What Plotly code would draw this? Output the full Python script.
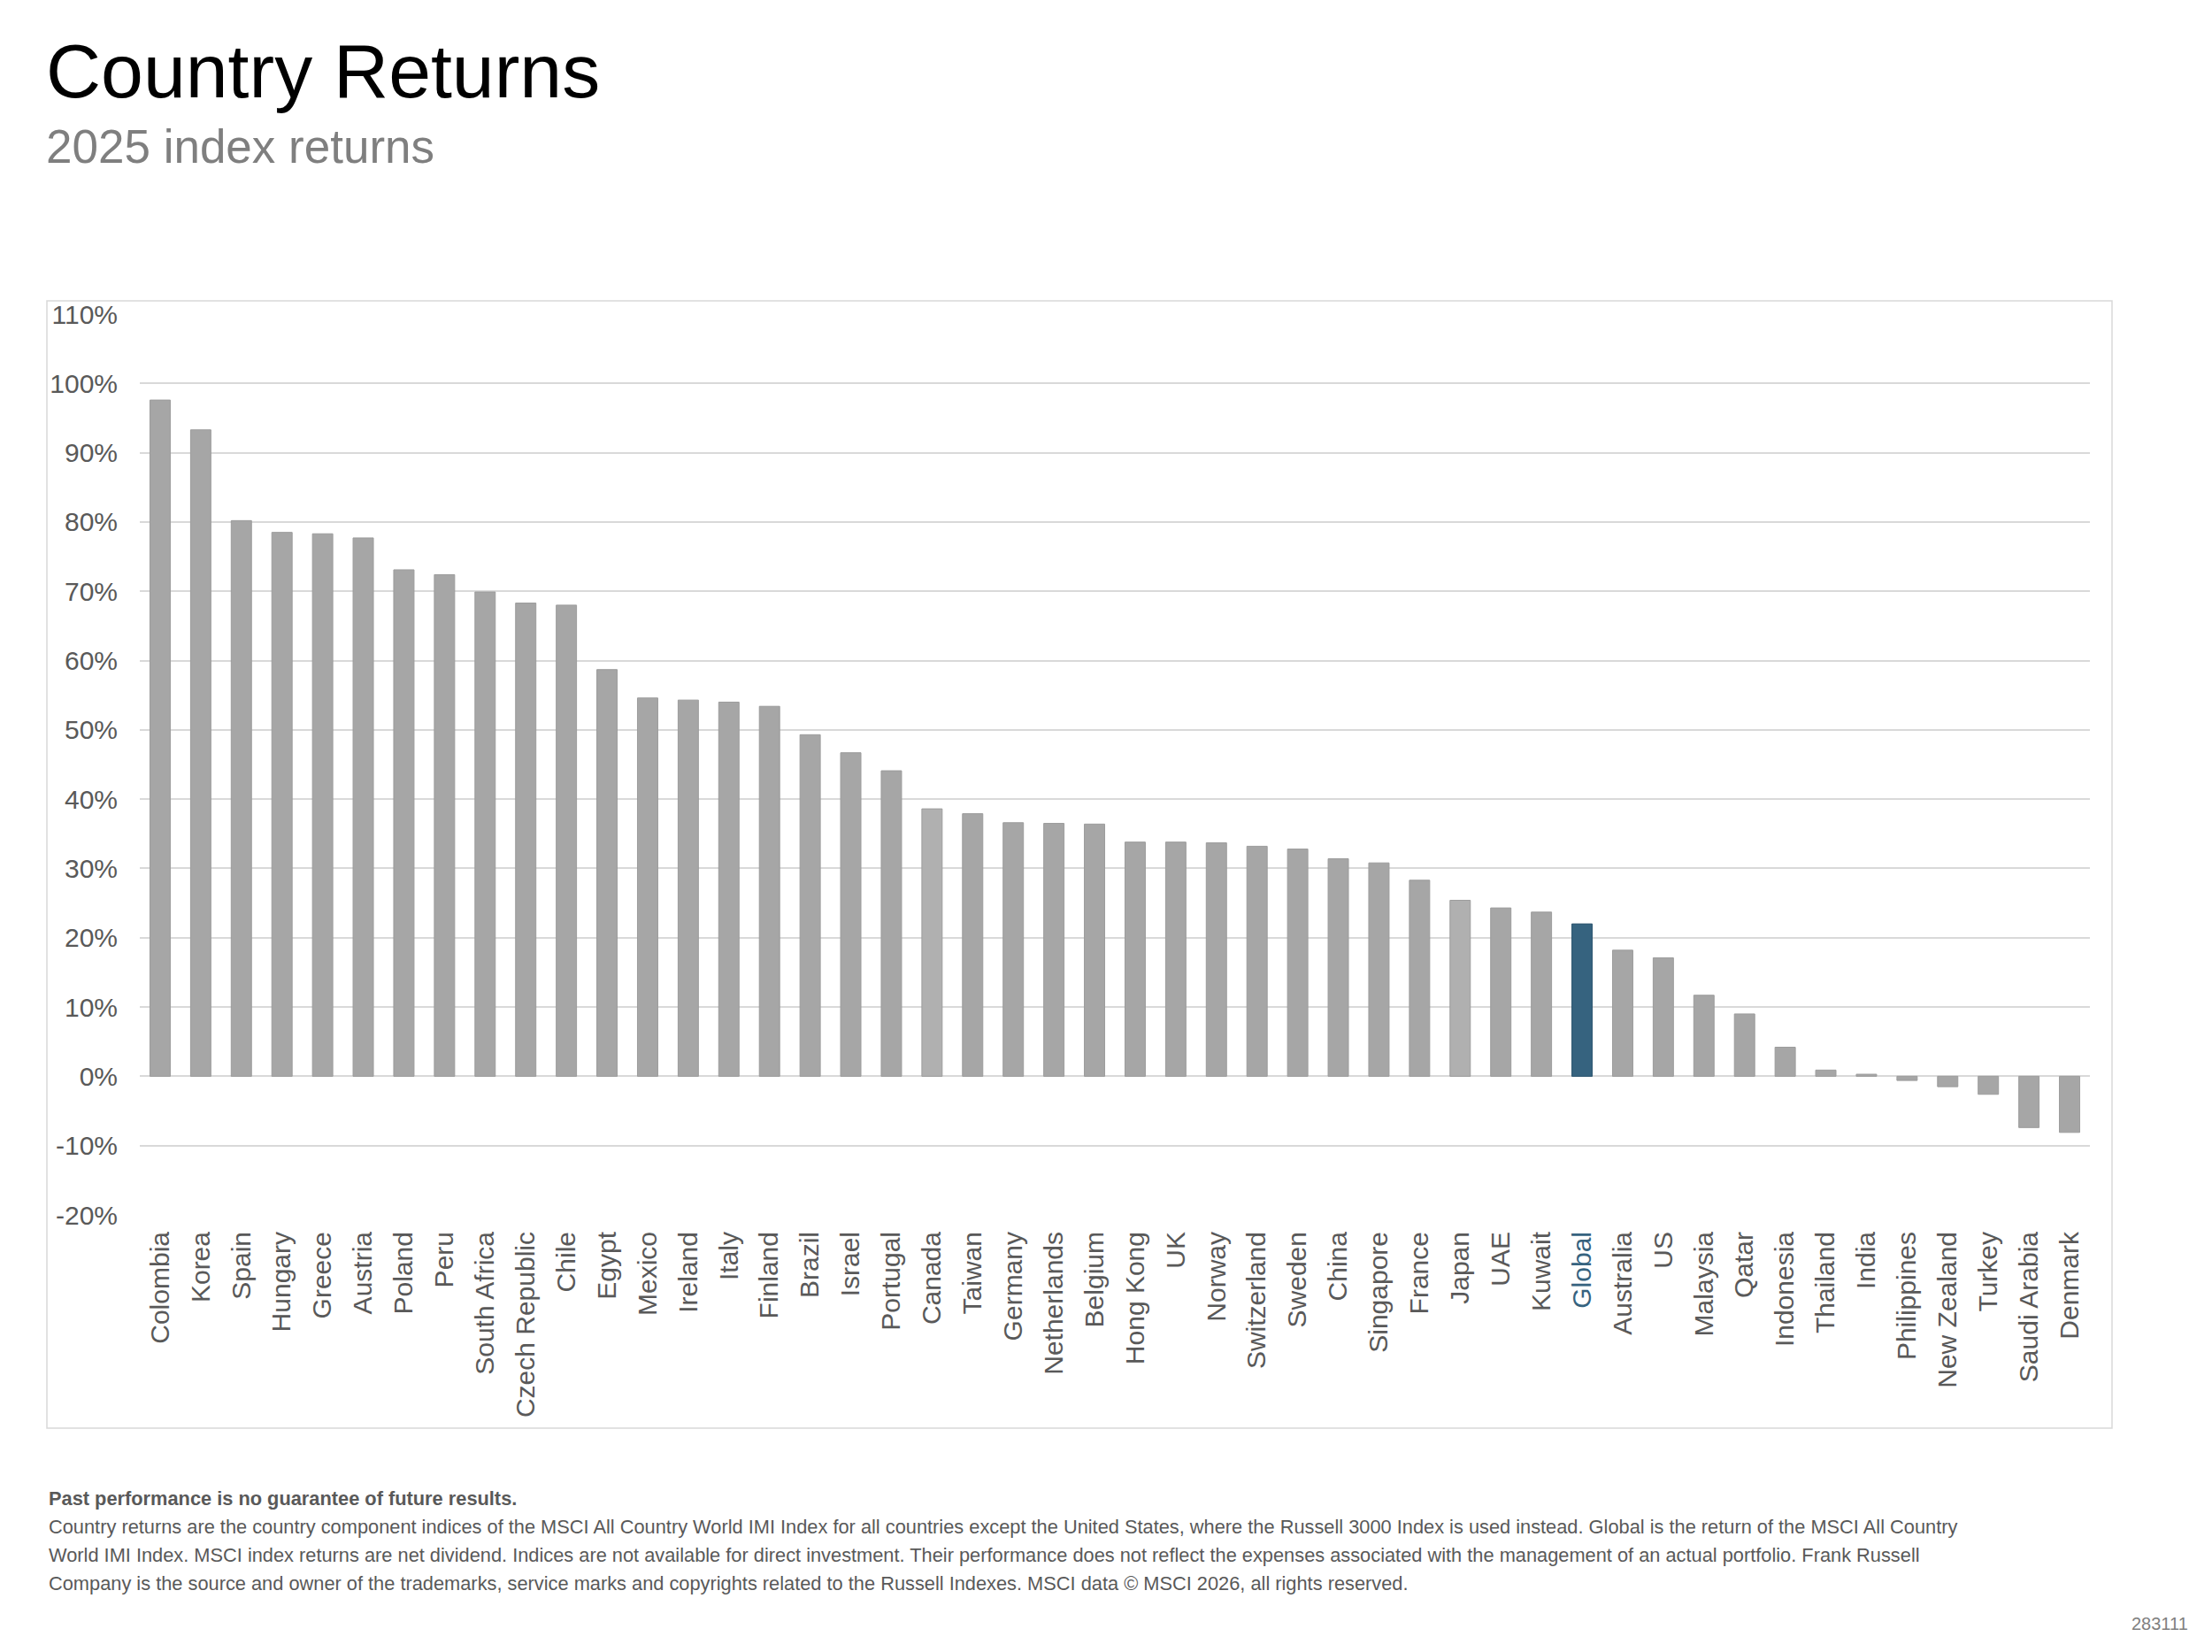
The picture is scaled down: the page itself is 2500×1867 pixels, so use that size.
import plotly.graph_objects as go

W, H = 2500, 1867
OFF = 8  # default page body margin in the HTML output

countries = ["Colombia", "Korea", "Spain", "Hungary", "Greece", "Austria", "Poland", "Peru",
             "South Africa", "Czech Republic", "Chile", "Egypt", "Mexico", "Ireland", "Italy",
             "Finland", "Brazil", "Israel", "Portugal", "Canada", "Taiwan", "Germany",
             "Netherlands", "Belgium", "Hong Kong", "UK", "Norway", "Switzerland", "Sweden",
             "China", "Singapore", "France", "Japan", "UAE", "Kuwait", "Global", "Australia",
             "US", "Malaysia", "Qatar", "Indonesia", "Thailand", "India", "Philippines",
             "New Zealand", "Turkey", "Saudi Arabia", "Denmark"]

returns = [97.6, 93.3, 80.2, 78.5, 78.3, 77.7, 73.1, 72.4,
           69.9, 68.3, 68.0, 58.7, 54.6, 54.3, 54.0,
           53.4, 49.3, 46.7, 44.1, 38.6, 37.9, 36.6,
           36.5, 36.4, 33.8, 33.8, 33.7, 33.2, 32.8,
           31.4, 30.8, 28.3, 25.4, 24.3, 23.7, 22.0, 18.2,
           17.1, 11.7, 9.0, 4.2, 0.9, 0.3, -0.6,
           -1.5, -2.6, -7.4, -8.1]

highlight = "Global"
lighter = ["Canada", "Japan"]

y_ticks = list(range(-20, 111, 10))

title_text = "Country Returns"
subtitle_text = "2025 index returns"
footer_bold = "Past performance is no guarantee of future results."
footer_lines = [
    "Country returns are the country component indices of the MSCI All Country World IMI Index for all countries except the United States, where the Russell 3000 Index is used instead. Global is the return of the MSCI All Country",
    "World IMI Index. MSCI index returns are net dividend. Indices are not available for direct investment. Their performance does not reflect the expenses associated with the management of an actual portfolio. Frank Russell",
    "Company is the source and owner of the trademarks, service marks and copyrights related to the Russell Indexes. MSCI data \u00a9 MSCI 2026, all rights reserved.",
]
code_text = "283111"

GRAY = "#A6A6A6"
LIGHT = "#B0B0B0"
BLUE = "#36637F"
TXT = "#595959"
FONT = "Liberation Sans, Arial, sans-serif"

colors = [BLUE if c == highlight else (LIGHT if c in lighter else GRAY) for c in countries]
lines = ["#2E5670" if c == highlight else "#9C9C9C" for c in countries]
ticktext = [f'<span style="color:{BLUE}">{c}</span>' if c == highlight else c for c in countries]


def px(x):
    return (x - OFF) / W


def py(y):
    return 1 - (y - OFF) / H


fig = go.Figure()
fig.add_trace(go.Bar(
    x=countries, y=returns,
    marker=dict(color=colors, line=dict(color=lines, width=1)),
    hoverinfo="x+y",
))

fig.update_layout(
    width=W, height=H,
    margin=dict(l=0, r=0, t=0, b=0, autoexpand=False),
    paper_bgcolor="white", plot_bgcolor="white",
    showlegend=False,
    bargap=0.5,
    font=dict(family=FONT, color=TXT),
    xaxis=dict(
        domain=[px(158), px(2362)],
        tickmode="array", tickvals=countries, ticktext=ticktext,
        tickangle=-90, tickfont=dict(size=30, color=TXT, family=FONT),
        showgrid=False, showline=False, ticks="", ticklabelstandoff=12,
        automargin=False,
    ),
    yaxis=dict(
        domain=[py(1373), py(355)],
        range=[-20, 110], tickmode="array", tickvals=y_ticks,
        ticktext=[f"{v}%" for v in y_ticks],
        tickfont=dict(size=30, color=TXT, family=FONT),
        showgrid=True, gridcolor="#D9D9D9", gridwidth=2,
        zeroline=False, showline=False, ticks="", ticklabelstandoff=24,
        automargin=False,
    ),
)

# chart frame
fig.add_shape(type="rect", xref="paper", yref="paper",
              x0=px(53), x1=px(2387), y0=py(1614), y1=py(340),
              line=dict(color="#D9D9D9", width=1.5), layer="below")

ann = []
ann.append(dict(text=title_text, x=px(50), y=py(80), xanchor="left", yanchor="middle",
                font=dict(size=86, color="black", family=FONT)))
ann.append(dict(text=subtitle_text, x=px(50), y=py(165), xanchor="left", yanchor="middle",
                font=dict(size=53, color="#7F7F7F", family=FONT)))
ann.append(dict(text=f"<b>{footer_bold}</b>", x=px(53), y=py(1693), xanchor="left", yanchor="middle",
                font=dict(size=21.8, color=TXT, family=FONT)))
for i, t in enumerate(footer_lines):
    ann.append(dict(text=t, x=px(53), y=py(1725 + 32 * i), xanchor="left", yanchor="middle",
                    font=dict(size=21.8, color=TXT, family=FONT)))
ann.append(dict(text=code_text, x=px(2475), y=py(1835), xanchor="right", yanchor="middle",
                font=dict(size=20, color="#808080", family=FONT)))
for a in ann:
    a.update(xref="paper", yref="paper", showarrow=False)
fig.update_layout(annotations=ann)

fig.write_html("out.html")
